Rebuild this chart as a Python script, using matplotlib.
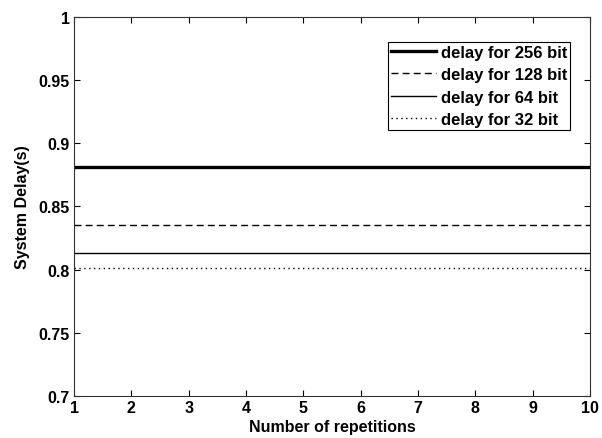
import numpy as np
import matplotlib.pyplot as plt

plt.rcParams['font.family'] = ['Liberation Sans', 'DejaVu Sans']
plt.rcParams['font.weight'] = 'bold'
plt.rcParams['axes.labelweight'] = 'bold'

reps = np.arange(1, 11)
delay_256 = [0.881] * 10
delay_128 = [0.835] * 10
delay_64 = [0.813] * 10
delay_32 = [0.8015] * 10

fig = plt.figure(figsize=(6.02, 4.39), dpi=100)
ax = fig.add_axes([0.123, 0.096, 0.857, 0.863])

ax.plot(reps, delay_256, color='black', lw=2.4, label='delay for 256 bit')
ax.plot(reps, delay_128, color='black', lw=1.0, ls=(0, (5, 3)), label='delay for 128 bit')
ax.plot(reps, delay_64, color='black', lw=1.0, label='delay for 64 bit')
ax.plot(reps, delay_32, color='black', lw=1.0, ls=(0, (1, 2.5)), label='delay for 32 bit')

ax.set_xlim(1, 10)
ax.set_ylim(0.7, 1.0)
ax.set_xticks(range(1, 11))
ax.set_yticks([0.7, 0.75, 0.8, 0.85, 0.9, 0.95, 1.0])
ax.set_yticklabels(['0.7', '0.75', '0.8', '0.85', '0.9', '0.95', '1'])
ax.tick_params(direction='in', top=True, right=True, length=4, labelsize=11.5, pad=3)
for s in ax.spines.values():
    s.set_color('#333333')

ax.set_xlabel('Number of repetitions', fontsize=11.5, labelpad=3)
ax.set_ylabel('System Delay(s)', fontsize=11.5, labelpad=6)

leg = ax.legend(loc='upper right', bbox_to_anchor=(0.961, 0.934), fontsize=12,
                handlelength=2.7, handletextpad=0.3, borderpad=0.15, labelspacing=0.45,
                borderaxespad=0, fancybox=False, edgecolor='black', framealpha=1)
leg.get_frame().set_linewidth(0.8)

fig.savefig('out.png', dpi=100)
